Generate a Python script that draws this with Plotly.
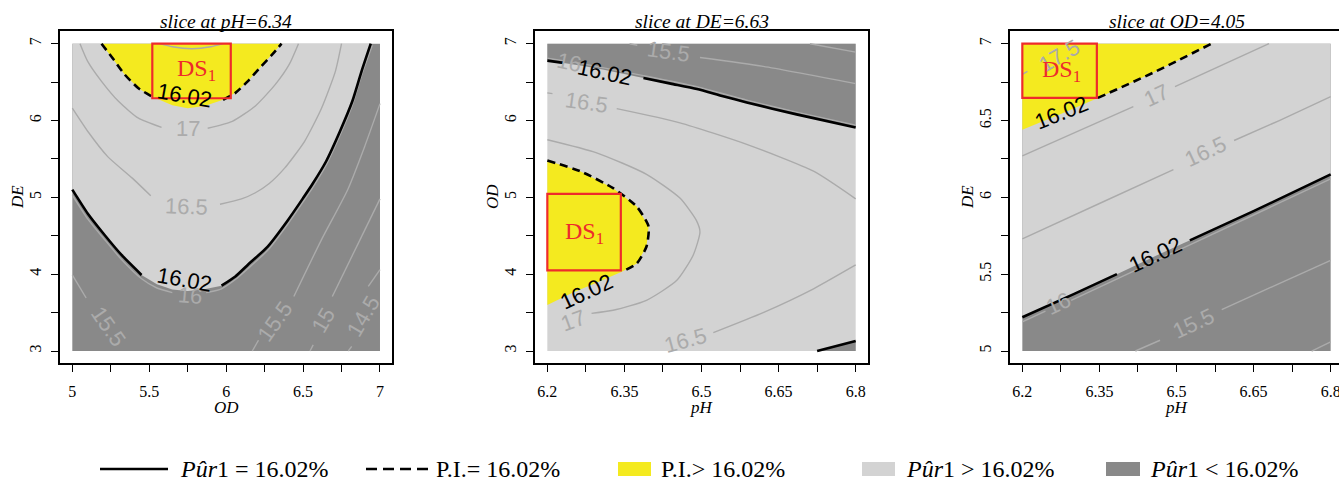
import plotly.graph_objects as go

W, H = 1339, 479
YELLOW = "#F4EA1F"
LIGHT = "#D3D3D3"
DARK = "#898989"
CGRAY = "#ABABAB"
RED = "#EE2B2B"
SERIF = "Liberation Serif"
SANS = "Liberation Sans"

# ---------------- Panel 1 : slice at pH = 6.34  (x = OD, y = DE)
p1_title = "slice at pH=6.34"
p1_xlab, p1_ylab = "OD", "DE"
p1_xlim = [5.0, 7.0]
p1_ylim = [3.0, 7.0]
p1_xticks = [5, 5.25, 5.5, 5.75, 6, 6.25, 6.5, 6.75, 7]
p1_xticktext = ["5", "", "5.5", "", "6", "", "6.5", "", "7"]
p1_yticks = [3, 3.5, 4, 4.5, 5, 5.5, 6, 6.5, 7]
p1_yticktext = ["3", "", "4", "", "5", "", "6", "", "7"]

p1_black_x = [5.00, 5.10, 5.21, 5.32, 5.45, 5.55, 5.65, 5.75, 5.85, 5.97, 6.06, 6.14, 6.27, 6.40, 6.50, 6.56, 6.65, 6.74, 6.82, 6.88, 6.94]
p1_black_y = [5.10, 4.79, 4.51, 4.25, 3.99, 3.87, 3.80, 3.78, 3.80, 3.85, 3.97, 4.12, 4.36, 4.70, 4.99, 5.17, 5.47, 5.86, 6.25, 6.64, 7.00]
p1_black_gap = [5, 6, 7, 8]

p1_pi_x = [5.19, 5.27, 5.34, 5.43, 5.52, 5.65, 5.75, 5.86, 5.98, 6.06, 6.14, 6.23, 6.30, 6.36]
p1_pi_y = [7.00, 6.79, 6.60, 6.42, 6.31, 6.20, 6.16, 6.19, 6.27, 6.36, 6.51, 6.71, 6.86, 7.00]
p1_pi_gap = [5, 6, 7]

p1_c175_x = [5.57, 5.65, 5.78, 5.90, 5.98]
p1_c175_y = [7.00, 6.96, 6.935, 6.96, 7.00]
p1_c17_x = [5.05, 5.10, 5.19, 5.30, 5.43, 5.58, 5.75, 5.88, 6.04, 6.19, 6.32, 6.41, 6.47]
p1_c17_y = [7.00, 6.77, 6.51, 6.25, 6.03, 5.91, 5.89, 5.90, 5.99, 6.19, 6.47, 6.73, 7.00]
p1_c17_gap = [6]
p1_c165_x = [5.00, 5.10, 5.23, 5.39, 5.51, 5.63, 5.76, 5.87, 5.96, 6.10, 6.19, 6.28, 6.38, 6.51, 6.62, 6.71, 6.75]
p1_c165_y = [6.16, 5.86, 5.53, 5.25, 5.02, 4.91, 4.87, 4.88, 4.91, 4.98, 5.06, 5.18, 5.38, 5.73, 6.16, 6.64, 7.00]
p1_c165_gap = [5, 6, 7]
p1_c16_x = [5.00, 5.10, 5.21, 5.32, 5.45, 5.55, 5.65, 5.76, 5.87, 5.97, 6.06, 6.14, 6.27, 6.40, 6.50, 6.56, 6.65, 6.74, 6.82, 6.88, 6.95]
p1_c16_y = [5.03, 4.72, 4.45, 4.19, 3.94, 3.82, 3.76, 3.73, 3.76, 3.81, 3.93, 4.07, 4.31, 4.65, 4.94, 5.12, 5.42, 5.81, 6.20, 6.59, 6.98]
p1_c16_gap = [7]
p1_c155a_x = [5.00, 5.09, 5.17, 5.26, 5.35]
p1_c155a_y = [3.99, 3.69, 3.47, 3.22, 3.00]
p1_c155a_gap = [2, 3, 4]
p1_c155b_x = [7.00, 6.90, 6.79, 6.62, 6.44, 6.32, 6.21, 6.17]
p1_c155b_y = [6.22, 5.66, 5.10, 4.45, 3.71, 3.38, 3.14, 3.00]
p1_c155b_gap = [5]
p1_c15_x = [7.00, 6.69, 6.63, 6.566, 6.545]
p1_c15_y = [4.98, 3.71, 3.40, 3.08, 3.00]
p1_c15_gap = [2]
p1_c145_x = [7.00, 6.924, 6.89, 6.816, 6.794]
p1_c145_y = [4.06, 3.84, 3.45, 3.06, 3.00]
p1_c145_gap = [2]

p1_lab_text = ["17", "16.5", "16", "15.5", "15.5", "15", "14.5", "16.02", "16.02"]
p1_lab_x = [5.754, 5.744, 5.765, 5.234, 6.318, 6.63, 6.89, 5.73, 5.726]
p1_lab_y = [5.90, 4.88, 3.72, 3.32, 3.38, 3.40, 3.45, 6.32, 3.93]
p1_lab_ang = [0, 2, 5, 55, -55, -60, -60, 10, 10]

p1_ds_x = [5.52, 6.03]
p1_ds_y = [6.29, 7.00]
p1_ds_lab = [5.81, 6.66]

# ---------------- Panel 2 : slice at DE = 6.63  (x = pH, y = OD)
p2_title = "slice at DE=6.63"
p2_xlab, p2_ylab = "pH", "OD"
p2_xlim = [6.2, 6.8]
p2_ylim = [3.0, 7.0]
p2_xticks = [6.2, 6.275, 6.35, 6.425, 6.5, 6.575, 6.65, 6.725, 6.8]
p2_xticktext = ["6.2", "", "6.35", "", "6.5", "", "6.65", "", "6.8"]
p2_yticks = [3, 3.5, 4, 4.5, 5, 5.5, 6, 6.5, 7]
p2_yticktext = ["3", "", "4", "", "5", "", "6", "", "7"]

p2_black_x = [6.20, 6.231, 6.27, 6.31, 6.35, 6.387, 6.44, 6.491, 6.54, 6.588, 6.685, 6.80]
p2_black_y = [6.78, 6.75, 6.71, 6.66, 6.61, 6.554, 6.48, 6.41, 6.32, 6.235, 6.08, 5.91]
p2_black_gap = [2, 3, 4]
p2_black2_x = [6.725, 6.80]
p2_black2_y = [3.00, 3.13]

p2_pi_x = [6.20, 6.264, 6.328, 6.374, 6.397, 6.393, 6.374, 6.345, 6.30, 6.25, 6.20]
p2_pi_y = [5.48, 5.34, 5.12, 4.88, 4.62, 4.36, 4.14, 4.03, 3.90, 3.76, 3.60]
p2_pi_gap = [8, 9, 10]

p2_c16_x = [6.20, 6.23, 6.243, 6.26, 6.387, 6.491, 6.588, 6.685, 6.80]
p2_c16_y = [6.81, 6.78, 6.765, 6.75, 6.585, 6.44, 6.265, 6.11, 5.94]
p2_c16_gap = [2]
p2_c155_x = [6.36, 6.375, 6.435, 6.497, 6.62, 6.80]
p2_c155_y = [7.00, 6.98, 6.90, 6.82, 6.705, 6.48]
p2_c155_gap = [2]
p2_c15_x = [6.711, 6.80]
p2_c15_y = [7.00, 6.89]
p2_c165a_x = [6.20, 6.21, 6.277, 6.335, 6.458, 6.588, 6.718, 6.80]
p2_c165a_y = [6.36, 6.35, 6.235, 6.154, 5.97, 5.69, 5.34, 4.98]
p2_c165a_gap = [2]
p2_c165b_x = [6.523, 6.62, 6.718, 6.80]
p2_c165b_y = [3.24, 3.50, 3.81, 4.12]
p2_c17_x = [6.20, 6.296, 6.393, 6.458, 6.49, 6.497, 6.484, 6.452, 6.393, 6.328, 6.286]
p2_c17_y = [5.75, 5.58, 5.30, 4.99, 4.70, 4.55, 4.25, 3.92, 3.66, 3.53, 3.49]

p2_lab_text = ["16", "15.5", "16.5", "17", "16.5", "16.02", "16.02"]
p2_lab_x = [6.243, 6.435, 6.277, 6.25, 6.468, 6.312, 6.277]
p2_lab_y = [6.76, 6.90, 6.235, 3.40, 3.14, 6.62, 3.77]
p2_lab_ang = [12, 8, 8, -20, -15, 12, -25]

p2_ds_x = [6.20, 6.343]
p2_ds_y = [4.05, 5.045]
p2_ds_lab = [6.272, 4.53]

# ---------------- Panel 3 : slice at OD = 4.05  (x = pH, y = DE)
p3_title = "slice at OD=4.05"
p3_xlab, p3_ylab = "pH", "DE"
p3_xlim = [6.2, 6.8]
p3_ylim = [5.0, 7.0]
p3_xticks = [6.2, 6.275, 6.35, 6.425, 6.5, 6.575, 6.65, 6.725, 6.8]
p3_xticktext = ["6.2", "", "6.35", "", "6.5", "", "6.65", "", "6.8"]
p3_yticks = [5, 5.25, 5.5, 5.75, 6, 6.25, 6.5, 6.75, 7]
p3_yticktext = ["5", "", "5.5", "", "6", "", "6.5", "", "7"]

p3_black_x = [6.20, 6.30, 6.384, 6.46, 6.526, 6.65, 6.80]
p3_black_y = [5.22, 5.37, 5.50, 5.62, 5.72, 5.91, 6.15]
p3_black_gap = [3]

p3_pi_x = [6.20, 6.277, 6.347, 6.46, 6.568]
p3_pi_y = [6.44, 6.545, 6.647, 6.82, 7.00]
p3_pi_gap = [0, 1]

p3_c16_x = [6.20, 6.245, 6.27, 6.295, 6.50, 6.80]
p3_c16_y = [5.19, 5.26, 5.30, 5.33, 5.65, 6.12]
p3_c16_gap = [2]
p3_c155_x = [6.42, 6.468, 6.533, 6.588, 6.80]
p3_c155_y = [5.00, 5.07, 5.175, 5.27, 5.59]
p3_c155_gap = [2]
p3_c15_x = [6.763, 6.80]
p3_c15_y = [5.00, 5.06]
p3_c165_x = [6.20, 6.35, 6.494, 6.557, 6.612, 6.70, 6.80]
p3_c165_y = [5.73, 5.96, 6.18, 6.30, 6.37, 6.50, 6.655]
p3_c165_gap = [3]
p3_c17_x = [6.20, 6.416, 6.461, 6.497, 6.68]
p3_c17_y = [6.27, 6.59, 6.665, 6.72, 7.00]
p3_c17_gap = [2]
p3_c175_x = [6.20, 6.21, 6.273, 6.33]
p3_c175_y = [6.80, 6.82, 6.92, 7.00]
p3_c175_gap = [2, 3]

p3_lab_text = ["17.5", "17", "16.5", "16", "15.5", "16.02", "16.02"]
p3_lab_x = [6.273, 6.461, 6.557, 6.27, 6.533, 6.277, 6.46]
p3_lab_y = [6.92, 6.665, 6.30, 5.31, 5.18, 6.55, 5.625]
p3_lab_ang = [-30, -25, -25, -25, -25, -22, -25]

p3_ds_x = [6.20, 6.345]
p3_ds_y = [6.647, 7.00]
p3_ds_lab = [6.277, 6.82]

# ---------------- legend
leg_text = ["<i>Pûr</i>1 = 16.02%", "P.I.= 16.02%", "P.I.> 16.02%",
            "<i>Pûr</i>1 > 16.02%", "<i>Pûr</i>1 < 16.02%"]

# ================= helpers
def gapped(xs, ys, hide=()):
    ox, oy = [], []
    for i, (a, b) in enumerate(zip(xs, ys)):
        if i in hide:
            if ox and ox[-1] is not None:
                ox.append(None)
                oy.append(None)
        else:
            ox.append(a)
            oy.append(b)
    return ox, oy


fig = go.Figure()

# frame pixel geometry (plot box incl. R's 4% extension)
FRAMES = [(60.0, 392.3), (535.0, 868.0), (1010.0, 1343.0)]
FY = (31.4, 363.3)


def px(v):
    return v / W


def py(v):
    return 1 - v / H


def axis_ids(k):
    return ("x", "y") if k == 1 else (f"x{k}", f"y{k}")


def add_fill(k, xs, ys, color):
    xa, ya = axis_ids(k)
    fig.add_trace(go.Scatter(x=xs, y=ys, fill="toself", fillcolor=color, mode="lines",
                             line=dict(width=0, color=color), hoverinfo="skip",
                             showlegend=False, xaxis=xa, yaxis=ya))


def add_line(k, xs, ys, hide=(), color=CGRAY, width=1.4, dash=None):
    xa, ya = axis_ids(k)
    gx, gy = gapped(xs, ys, hide)
    fig.add_trace(go.Scatter(x=gx, y=gy, mode="lines",
                             line=dict(color=color, width=width, dash=dash, shape="spline", smoothing=0.6),
                             hoverinfo="skip", showlegend=False, xaxis=xa, yaxis=ya))


panels = [
    dict(k=1, title=p1_title, xlab=p1_xlab, ylab=p1_ylab, xlim=p1_xlim, ylim=p1_ylim,
         xt=p1_xticks, xtt=p1_xticktext, yt=p1_yticks, ytt=p1_yticktext,
         lab=(p1_lab_text, p1_lab_x, p1_lab_y, p1_lab_ang), ds=(p1_ds_x, p1_ds_y, p1_ds_lab)),
    dict(k=2, title=p2_title, xlab=p2_xlab, ylab=p2_ylab, xlim=p2_xlim, ylim=p2_ylim,
         xt=p2_xticks, xtt=p2_xticktext, yt=p2_yticks, ytt=p2_yticktext,
         lab=(p2_lab_text, p2_lab_x, p2_lab_y, p2_lab_ang), ds=(p2_ds_x, p2_ds_y, p2_ds_lab)),
    dict(k=3, title=p3_title, xlab=p3_xlab, ylab=p3_ylab, xlim=p3_xlim, ylim=p3_ylim,
         xt=p3_xticks, xtt=p3_xticktext, yt=p3_yticks, ytt=p3_yticktext,
         lab=(p3_lab_text, p3_lab_x, p3_lab_y, p3_lab_ang), ds=(p3_ds_x, p3_ds_y, p3_ds_lab)),
]

# ---- panel 1 regions & lines
x0, x1 = p1_xlim
y0, y1 = p1_ylim
add_fill(1, [x0, x1, x1, x0], [y0, y0, y1, y1], DARK)
add_fill(1, p1_black_x + [x0], p1_black_y + [y1], LIGHT)
add_fill(1, p1_pi_x, p1_pi_y, YELLOW)
add_line(1, p1_c175_x, p1_c175_y)
add_line(1, p1_c17_x, p1_c17_y, p1_c17_gap)
add_line(1, p1_c165_x, p1_c165_y, p1_c165_gap)
add_line(1, p1_c16_x, p1_c16_y, p1_c16_gap)
add_line(1, p1_c155a_x, p1_c155a_y, p1_c155a_gap)
add_line(1, p1_c155b_x, p1_c155b_y, p1_c155b_gap)
add_line(1, p1_c15_x, p1_c15_y, p1_c15_gap)
add_line(1, p1_c145_x, p1_c145_y, p1_c145_gap)
add_line(1, p1_black_x, p1_black_y, p1_black_gap, color="black", width=2.6)
add_line(1, p1_pi_x, p1_pi_y, p1_pi_gap, color="black", width=2.6, dash="8px,5px")

# ---- panel 2
x0, x1 = p2_xlim
y0, y1 = p2_ylim
add_fill(2, [x0, x1, x1, x0], [y0, y0, y1, y1], LIGHT)
add_fill(2, p2_black_x + [x1, x0], p2_black_y + [y1, y1], DARK)
add_fill(2, p2_black2_x + [x1], p2_black2_y + [y0], DARK)
add_fill(2, p2_pi_x, p2_pi_y, YELLOW)
add_line(2, p2_c16_x, p2_c16_y, p2_c16_gap)
add_line(2, p2_c155_x, p2_c155_y, p2_c155_gap)
add_line(2, p2_c15_x, p2_c15_y)
add_line(2, p2_c165a_x, p2_c165a_y, p2_c165a_gap)
add_line(2, p2_c165b_x, p2_c165b_y)
add_line(2, p2_c17_x, p2_c17_y)
add_line(2, p2_black_x, p2_black_y, p2_black_gap, color="black", width=2.6)
add_line(2, p2_black2_x, p2_black2_y, color="black", width=2.6)
add_line(2, p2_pi_x, p2_pi_y, p2_pi_gap, color="black", width=2.6, dash="8px,5px")

# ---- panel 3
x0, x1 = p3_xlim
y0, y1 = p3_ylim
add_fill(3, [x0, x1, x1, x0], [y0, y0, y1, y1], DARK)
add_fill(3, p3_black_x + [x1, x0], p3_black_y + [y1, y1], LIGHT)
add_fill(3, p3_pi_x + [x0], p3_pi_y + [y1], YELLOW)
add_line(3, p3_c175_x, p3_c175_y, p3_c175_gap)
add_line(3, p3_c17_x, p3_c17_y, p3_c17_gap)
add_line(3, p3_c165_x, p3_c165_y, p3_c165_gap)
add_line(3, p3_c16_x, p3_c16_y, p3_c16_gap)
add_line(3, p3_c155_x, p3_c155_y, p3_c155_gap)
add_line(3, p3_c15_x, p3_c15_y)
add_line(3, p3_black_x, p3_black_y, p3_black_gap, color="black", width=2.6)
add_line(3, p3_pi_x, p3_pi_y, p3_pi_gap, color="black", width=2.6, dash="8px,5px")

shapes = []
annotations = []
layout = dict()

for p, (fx0, fx1) in zip(panels, FRAMES):
    k = p["k"]
    xa, ya = axis_ids(k)
    lo, hi = p["xlim"]
    ext = 0.04 * (hi - lo)
    rlo, rhi_full = lo - ext, hi + ext
    vis1 = min(fx1, W)
    rhi = rlo + (vis1 - fx0) / (fx1 - fx0) * (rhi_full - rlo)
    ylo, yhi = p["ylim"]
    eyt = 0.04 * (yhi - ylo)
    common = dict(showline=True, mirror=True, linecolor="black", linewidth=1.5,
                  ticks="outside", ticklen=7, tickwidth=1, tickcolor="black",
                  showgrid=False, zeroline=False, fixedrange=True, automargin=False,
                  ticklabeloverflow="allow",
                  tickfont=dict(family=SERIF, size=16, color="black"))
    layout["xaxis" if k == 1 else f"xaxis{k}"] = dict(
        domain=[px(fx0), px(vis1)], range=[rlo, rhi], anchor=ya,
        tickmode="array", tickvals=p["xt"], ticktext=p["xtt"], ticklabelstandoff=6, **common)
    layout["yaxis" if k == 1 else f"yaxis{k}"] = dict(
        domain=[py(FY[1]), py(FY[0])], range=[ylo - eyt, yhi + eyt], anchor=xa,
        tickmode="array", tickvals=p["yt"], ticktext=p["ytt"], tickangle=-90,
        ticklabelstandoff=4, **common)

    # DS box
    dx, dy, dl = p["ds"]
    shapes.append(dict(type="rect", xref=xa, yref=ya, x0=dx[0], x1=dx[1], y0=dy[0], y1=dy[1],
                       line=dict(color=RED, width=2.2), layer="above"))
    # contour labels (gray first, black on top)
    texts, lx, ly, la = p["lab"]
    for t, xx, yy, aa in zip(texts, lx, ly, la):
        annotations.append(dict(x=xx, y=yy, xref=xa, yref=ya, text=t, showarrow=False,
                                textangle=aa, xanchor="center", yanchor="middle",
                                font=dict(family=SANS, size=22,
                                          color="black" if t == "16.02" else CGRAY)))
    annotations.append(dict(x=dl[0], y=dl[1], xref=xa, yref=ya, text="DS<sub>1</sub>",
                            showarrow=False, xanchor="center", yanchor="middle",
                            font=dict(family=SERIF, size=24, color=RED)))
    # titles / axis labels
    cx = (fx0 + fx1) / 2
    annotations.append(dict(x=px(cx), y=py(22), xref="paper", yref="paper",
                            text=f"<i>{p['title']}</i>", showarrow=False,
                            xanchor="center", yanchor="middle",
                            font=dict(family=SERIF, size=19.5, color="black")))
    annotations.append(dict(x=px(cx), y=py(407), xref="paper", yref="paper",
                            text=f"<i>{p['xlab']}</i>", showarrow=False,
                            xanchor="center", yanchor="middle",
                            font=dict(family=SERIF, size=17, color="black")))
    annotations.append(dict(x=px(fx0 - 43), y=py(197), xref="paper", yref="paper",
                            text=f"<i>{p['ylab']}</i>", showarrow=False, textangle=-90,
                            xanchor="center", yanchor="middle",
                            font=dict(family=SERIF, size=17, color="black")))

# ---- legend (drawn in page coordinates)
LY = 469
shapes.append(dict(type="line", xref="paper", yref="paper", x0=px(100), x1=px(168),
                   y0=py(LY), y1=py(LY), line=dict(color="black", width=2.6)))
shapes.append(dict(type="line", xref="paper", yref="paper", x0=px(366), x1=px(430),
                   y0=py(LY), y1=py(LY), line=dict(color="black", width=2.6, dash="11px,6px")))
for (bx0, bx1), col in zip([(618, 651), (862, 895), (1106, 1140)], [YELLOW, LIGHT, DARK]):
    shapes.append(dict(type="rect", xref="paper", yref="paper", x0=px(bx0), x1=px(bx1),
                       y0=py(476), y1=py(462), line=dict(width=0), fillcolor=col))
for t, tx in zip(leg_text, [178, 434, 659, 904, 1148]):
    annotations.append(dict(x=px(tx), y=py(LY), xref="paper", yref="paper", text=t,
                            showarrow=False, xanchor="left", yanchor="middle",
                            font=dict(family=SERIF, size=24, color="black")))

fig.update_layout(width=W, height=H, autosize=False, margin=dict(l=0, r=0, t=0, b=0),
                  paper_bgcolor="white", plot_bgcolor="white", showlegend=False,
                  shapes=shapes, annotations=annotations, **layout)
fig.write_html("out.html", config={"displayModeBar": False},
               post_script="document.body.style.margin='0px';document.body.style.overflow='hidden';")
